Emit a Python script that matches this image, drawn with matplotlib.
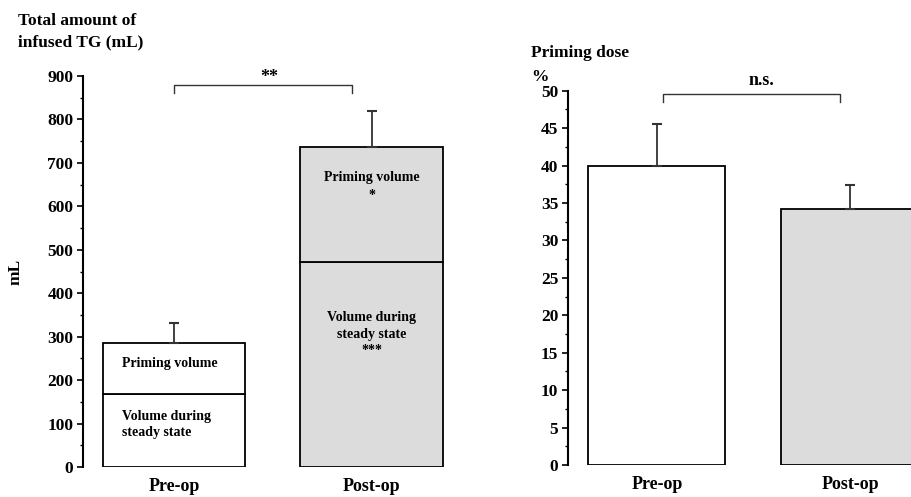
import matplotlib
matplotlib.use("Agg")
import matplotlib.pyplot as plt
from matplotlib.ticker import MultipleLocator

# ----------------------------------------------------------
# DATA
# ----------------------------------------------------------

groups = ["Pre-op", "Post-op"]

# left panel: total amount of infused TG (mL), stacked
steady_volume = [168, 473]
priming_volume = [118, 263]
total_err = [46, 83]

# right panel: priming dose (%)
priming_dose = [39.9, 34.2]
priming_dose_err = [5.6, 3.2]

bar_colors = ["white", "#dcdcdc"]

# ----------------------------------------------------------
# STYLE
# ----------------------------------------------------------

plt.rcParams["font.family"] = ["Liberation Serif", "DejaVu Serif"]
plt.rcParams["font.weight"] = "bold"
plt.rcParams["axes.labelweight"] = "bold"

fig = plt.figure(figsize=(9.12, 4.97), dpi=100)


def style_axis(ax, major, minor):
    for side in ("top", "right", "bottom"):
        ax.spines[side].set_visible(False)
    ax.spines["left"].set_linewidth(1.5)
    ax.yaxis.set_major_locator(MultipleLocator(major))
    ax.yaxis.set_minor_locator(MultipleLocator(minor))
    ax.tick_params(axis="y", which="major", length=4, width=1.2, labelsize=12.5, pad=3)
    ax.tick_params(axis="y", which="minor", length=2, width=1.0)
    ax.tick_params(axis="x", length=0, labelsize=13, pad=8)
    ax.set_xticks(range(len(groups)))
    ax.set_xticklabels(groups, fontweight="bold")
    for lab in ax.get_yticklabels():
        lab.set_fontweight("bold")


def bracket(ax, x0, x1, y, leg, label, label_x, label_y, color="#333333"):
    ax.plot([x0, x0, x1, x1], [y - leg, y, y, y - leg], color=color, lw=1.0, clip_on=False)
    ax.text(label_x, label_y, label, ha="center", va="center",
            fontsize=13, fontweight="bold", clip_on=False)


# ----------------------------------------------------------
# LEFT PANEL
# ----------------------------------------------------------

ax1 = fig.add_axes([83 / 912, 30 / 497, 387.3 / 912, 391 / 497])
x = list(range(len(groups)))
width = 0.72

ax1.bar(x, steady_volume, width=width, color=bar_colors, edgecolor="black", linewidth=1.3)
ax1.bar(x, priming_volume, width=width, bottom=steady_volume, color=bar_colors,
        edgecolor="black", linewidth=1.3)
totals = [s + p for s, p in zip(steady_volume, priming_volume)]
ax1.errorbar(x, totals, yerr=[[0, 0], total_err], fmt="none", ecolor="#333333",
             elinewidth=1.3, capsize=3.5, capthick=1.5, zorder=1)

ax1.set_xlim(-0.461, 1.5)
ax1.set_ylim(0, 900)
style_axis(ax1, 100, 50)
ax1.set_ylabel("mL", fontsize=12.5, fontweight="bold", labelpad=17)

# labels inside bars
ax1.text(-0.264, 239, "Priming volume", ha="left", va="center", fontsize=10, fontweight="bold")
ax1.text(-0.264, 98, "Volume during\nsteady state", ha="left", va="center",
         fontsize=10, fontweight="bold", linespacing=1.35)
ax1.text(1, 645, "Priming volume\n*", ha="center", va="center",
         fontsize=10, fontweight="bold", linespacing=1.5)
ax1.text(1, 305, "Volume during\nsteady state\n***", ha="center", va="center",
         fontsize=10, fontweight="bold", linespacing=1.35)

bracket(ax1, 0.0, 0.9, 880, 20, "**", 0.484, 896)

fig.text(18 / 912, 1 - 13 / 497, "Total amount of\ninfused TG (mL)", ha="left", va="top",
         fontsize=12.5, fontweight="bold", linespacing=1.45)

# ----------------------------------------------------------
# RIGHT PANEL
# ----------------------------------------------------------

ax2 = fig.add_axes([568 / 912, 32 / 497, 378.5 / 912, 374.3 / 497])
width2 = 0.71
ax2.bar(x, priming_dose, width=width2, color=bar_colors, edgecolor="black", linewidth=1.3)
ax2.errorbar(x, priming_dose, yerr=[[0, 0], priming_dose_err], fmt="none",
             ecolor="#333333", elinewidth=1.3, capsize=3.5, capthick=1.5, zorder=1)

ax2.set_xlim(-0.461, 1.5)
ax2.set_ylim(0, 50)
style_axis(ax2, 5, 2.5)

bracket(ax2, 0.033, 0.95, 49.6, 1.1, "n.s.", 0.539, 51.4)

fig.text(531 / 912, 1 - 53 / 497, "Priming dose", ha="left", va="center",
         fontsize=12.5, fontweight="bold")
fig.text(531 / 912, 1 - 77 / 497, "%", ha="left", va="center",
         fontsize=12.5, fontweight="bold")

fig.savefig("out.png", dpi=100)
